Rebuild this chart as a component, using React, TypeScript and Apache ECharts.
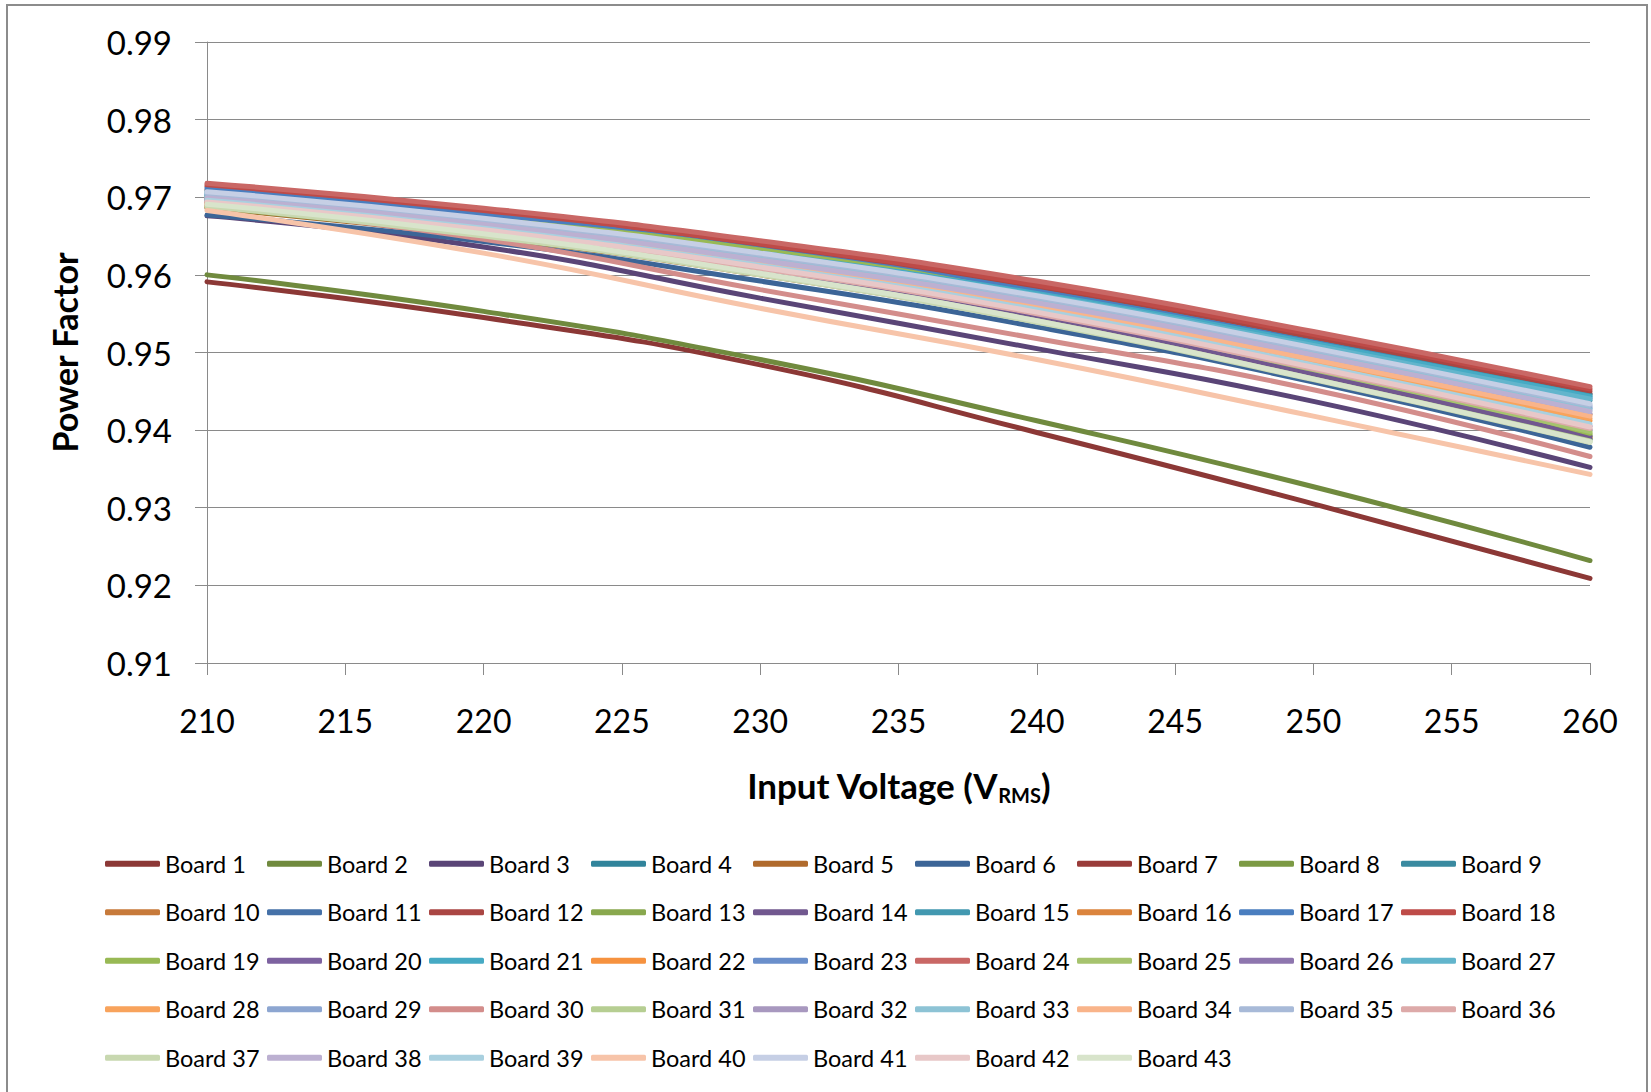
import React, { useEffect, useRef } from "react";
import * as echarts from "echarts";

// Input voltage sample points (V RMS)
const voltages = [210, 220, 230, 240, 250, 260];

// Power factor per board at 210,220,230,240,250,260 V
const board01 = [0.9591, 0.9545, 0.9484, 0.9397, 0.9305, 0.9209];
const board02 = [0.96, 0.9553, 0.9491, 0.9412, 0.9327, 0.9232];
const board03 = [0.9676, 0.9636, 0.957, 0.9505, 0.9437, 0.9352];
const board04 = [0.97, 0.9667, 0.9624, 0.9572, 0.9507, 0.9438];
const board05 = [0.9686, 0.9649, 0.96, 0.954, 0.9468, 0.9389];
const board06 = [0.9677, 0.9643, 0.9592, 0.9533, 0.9462, 0.9378];
const board07 = [0.971, 0.9677, 0.9634, 0.9581, 0.9517, 0.9447];
const board08 = [0.9687, 0.965, 0.9601, 0.9542, 0.947, 0.9392];
const board09 = [0.9708, 0.9675, 0.9632, 0.958, 0.9515, 0.9446];
const board10 = [0.9688, 0.9651, 0.9602, 0.9542, 0.9469, 0.939];
const board11 = [0.9695, 0.9657, 0.9606, 0.9545, 0.9469, 0.9388];
const board12 = [0.9714, 0.9681, 0.9637, 0.9585, 0.952, 0.945];
const board13 = [0.9698, 0.966, 0.961, 0.9549, 0.9475, 0.9394];
const board14 = [0.9693, 0.9655, 0.9606, 0.9546, 0.9472, 0.9392];
const board15 = [0.9706, 0.9673, 0.963, 0.9578, 0.9513, 0.9444];
const board16 = [0.9694, 0.966, 0.9615, 0.956, 0.9493, 0.942];
const board17 = [0.9712, 0.9678, 0.9633, 0.9579, 0.9513, 0.9441];
const board18 = [0.9716, 0.9683, 0.964, 0.9587, 0.9523, 0.9453];
const board19 = [0.9702, 0.9672, 0.9632, 0.9572, 0.9488, 0.9396];
const board20 = [0.9696, 0.9659, 0.961, 0.9551, 0.9478, 0.94];
const board21 = [0.9704, 0.9671, 0.9628, 0.9576, 0.9512, 0.9443];
const board22 = [0.969, 0.9655, 0.9609, 0.9554, 0.9486, 0.9412];
const board23 = [0.9703, 0.9669, 0.9623, 0.9568, 0.9501, 0.9428];
const board24 = [0.9718, 0.9686, 0.9644, 0.9592, 0.9527, 0.9456];
const board25 = [0.97, 0.9662, 0.9612, 0.9552, 0.9478, 0.9398];
const board26 = [0.9698, 0.9661, 0.9613, 0.9554, 0.9483, 0.9405];
const board27 = [0.9702, 0.9669, 0.9626, 0.9574, 0.9509, 0.944];
const board28 = [0.9692, 0.9657, 0.9612, 0.9556, 0.9488, 0.9415];
const board29 = [0.9701, 0.9667, 0.9622, 0.9568, 0.9502, 0.943];
const board30 = [0.969, 0.9646, 0.9581, 0.9518, 0.9452, 0.9366];
const board31 = [0.9689, 0.9651, 0.9601, 0.9541, 0.9466, 0.9386];
const board32 = [0.9697, 0.9663, 0.9617, 0.9562, 0.9494, 0.9421];
const board33 = [0.97, 0.9666, 0.9621, 0.9566, 0.9499, 0.9426];
const board34 = [0.9695, 0.966, 0.9615, 0.9559, 0.9491, 0.9418];
const board35 = [0.9705, 0.9671, 0.9626, 0.9571, 0.9504, 0.9432];
const board36 = [0.9692, 0.9656, 0.9608, 0.955, 0.9479, 0.9402];
const board37 = [0.9688, 0.965, 0.96, 0.9539, 0.9465, 0.9384];
const board38 = [0.9699, 0.9665, 0.9619, 0.9564, 0.9497, 0.9424];
const board39 = [0.9696, 0.966, 0.9612, 0.9555, 0.9484, 0.9408];
const board40 = [0.9683, 0.9628, 0.9557, 0.9491, 0.9418, 0.9343];
const board41 = [0.9707, 0.9673, 0.9628, 0.9573, 0.9506, 0.9434];
const board42 = [0.9694, 0.9658, 0.961, 0.9552, 0.9481, 0.9404];
const board43 = [0.9691, 0.9653, 0.9602, 0.9541, 0.9466, 0.9385];

const boardValues = [
  board01, board02, board03, board04, board05, board06, board07, board08, board09, board10,
  board11, board12, board13, board14, board15, board16, board17, board18, board19, board20,
  board21, board22, board23, board24, board25, board26, board27, board28, board29, board30,
  board31, board32, board33, board34, board35, board36, board37, board38, board39, board40,
  board41, board42, board43,
];

const boardNames = boardValues.map((_, i) => `Board ${i + 1}`);

const boardColors = [
  "#8C3836", "#708A3E", "#5A4577", "#31849B", "#B06A2C", "#3C6597",
  "#993C3A", "#7C9A44", "#3A8AA0", "#C77A3A", "#4571A8", "#AA4643",
  "#89A84E", "#71588F", "#4298B0", "#DB843D", "#4A7EBF", "#BE4B48",
  "#98B954", "#7D62A0", "#46AAC4", "#F6923F", "#6A8FCB", "#C96765",
  "#A6C36E", "#8E76AE", "#62B5CC", "#F8A35C", "#8DA6D1", "#D38D8B",
  "#B6CE92", "#A898BF", "#8DC3D5", "#F9B48A", "#A8BAD8", "#DDAAA9",
  "#C8D8B0", "#BCB0D1", "#A9D0DF", "#F7C4A9", "#C6CFE5", "#E8C8C8",
  "#D8E4CB",
];

const yTicks = { min: 0.91, max: 0.99, step: 0.01 };
const xTicks = { min: 210, max: 260, step: 5 };

const FONT = "Lato, 'Open Sans', sans-serif";
const AXIS_GRAY = "#8a8a8a";

export default function App() {
  const ref = useRef<HTMLDivElement | null>(null);

  useEffect(() => {
    if (!ref.current) return;
    const chart = echarts.init(ref.current, undefined, { renderer: "svg" });

    const series = boardValues.map((vals, i) => ({
      name: boardNames[i],
      type: "line",
      smooth: true,
      symbol: "none",
      showSymbol: false,
      color: boardColors[i],
      lineStyle: { width: 5, color: boardColors[i], cap: "round" },
      emphasis: { disabled: true },
      data: vals.map((v, j) => [voltages[j], v]),
    }));

    chart.setOption({
      animation: false,
      backgroundColor: "#ffffff",
      textStyle: { fontFamily: FONT },
      graphic: [
        {
          type: "rect",
          z: -10,
          shape: { x: 7, y: 5, width: 1640, height: 1100 },
          style: { fill: "none", stroke: "#8c8c8c", lineWidth: 2 },
          silent: true,
        },
      ],
      grid: {
        left: 207,
        top: 42,
        width: 1383,
        height: 621,
        containLabel: false,
        outerBoundsMode: "none",
      },
      xAxis: {
        type: "value",
        min: xTicks.min,
        max: xTicks.max,
        interval: xTicks.step,
        name: "{a|Input Voltage (V}{s|RMS}{a|)}",
        nameLocation: "middle",
        nameGap: 102,
        nameTextStyle: {
          rich: {
            a: { fontFamily: FONT, fontSize: 35, fontWeight: "bold", color: "#000", lineHeight: 40, verticalAlign: "middle" },
            s: { fontFamily: FONT, fontSize: 20, fontWeight: "bold", color: "#000", lineHeight: 20, verticalAlign: "bottom" },
          },
        },
        axisLine: { show: true, lineStyle: { color: AXIS_GRAY, width: 1 } },
        axisTick: { show: true, inside: false, length: 12, lineStyle: { color: AXIS_GRAY, width: 1 } },
        axisLabel: { fontFamily: FONT, fontSize: 32, color: "#000", margin: 41 },
        splitLine: { show: false },
      },
      yAxis: {
        type: "value",
        min: yTicks.min,
        max: yTicks.max,
        interval: yTicks.step,
        name: "Power Factor",
        nameLocation: "middle",
        nameGap: 126,
        nameTextStyle: { fontFamily: FONT, fontSize: 34, fontWeight: "bold", color: "#000" },
        axisLine: { show: true, lineStyle: { color: AXIS_GRAY, width: 1 } },
        axisTick: { show: true, inside: false, length: 12, lineStyle: { color: AXIS_GRAY, width: 1 } },
        axisLabel: {
          fontFamily: FONT,
          fontSize: 33,
          color: "#000",
          margin: 35,
          formatter: (v: number) => v.toFixed(2),
        },
        splitLine: { show: true, lineStyle: { color: AXIS_GRAY, width: 1 } },
      },
      legend: {
        show: true,
        type: "plain",
        data: boardNames,
        left: 105,
        top: 842,
        width: 1460,
        padding: 0,
        itemGap: 5,
        itemWidth: 55,
        itemHeight: 6,
        icon: "roundRect",
        selectedMode: false,
        textStyle: {
          fontFamily: FONT,
          fontSize: 23.5,
          color: "#000",
          width: 97,
          lineHeight: 43.5,
          padding: [0, 0, 0, 0],
        },
      },
      series,
    });

    return () => {
      chart.dispose();
    };
  }, []);

  return (
    <div
      ref={ref}
      style={{ position: "absolute", left: 0, top: 0, width: 1651, height: 1092, background: "#fff" }}
    />
  );
}
